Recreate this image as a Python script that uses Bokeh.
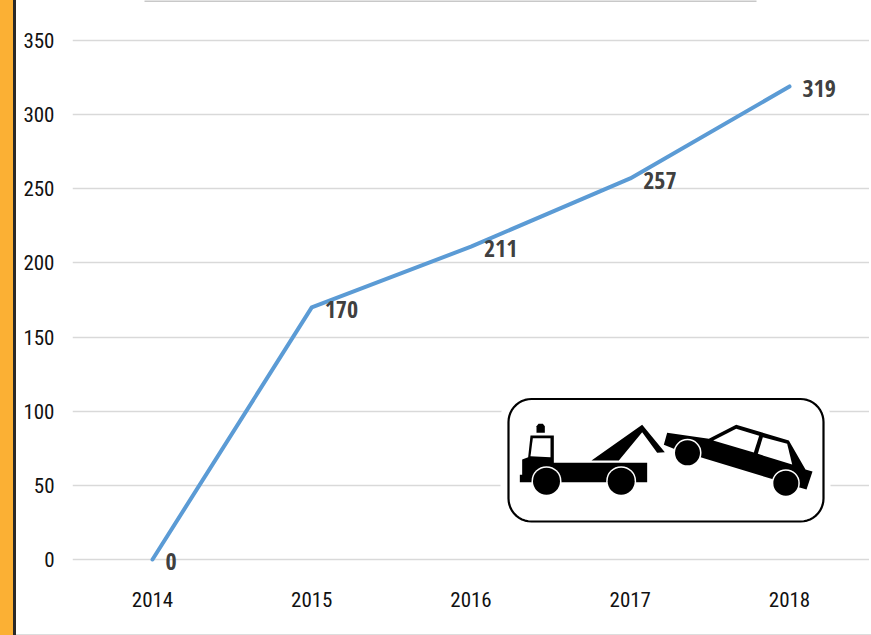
from bokeh.plotting import figure
from bokeh.models import Range1d, FixedTicker, ColumnDataSource, Div
from bokeh.layouts import row, column
from bokeh.core.properties import value
from bokeh.embed import file_html
from bokeh.resources import INLINE
import numpy as np

# chart data
years = [2014, 2015, 2016, 2017, 2018]
counts = [0, 170, 211, 257, 319]
count_labels = ["0", "170", "211", "257", "319"]
y_ticks = [0, 50, 100, 150, 200, 250, 300, 350]

BAND, EDGE = 13, 3
OX = BAND + EDGE                   # window x of the figure
W, H = 853, 634
FL, FR, FT, FB = 72, 869, 0, 580   # frame edges in window pixels
Y0, PXU = 559.0, 519.0 / 350       # window y of value 0, pixels per unit
X0, PXS = 152.0, 159.25            # window x of 2014, pixels per year

p = figure(width=W, height=H, output_backend="svg", toolbar_location=None,
           x_range=Range1d(2014 + (FL - X0) / PXS, 2014 + (FR - X0) / PXS),
           y_range=Range1d((Y0 - FB) / PXU, (Y0 - FT) / PXU),
           min_border_left=FL - OX, min_border_right=OX + W - FR, min_border_top=0,
           min_border_bottom=H - FB, outline_line_color=None, margin=0)

TICK_FONT = "Roboto Condensed"
LABEL_FONT = "Open Sans Condensed"
p.xgrid.visible = False
p.ygrid.grid_line_color = "#d9d9d9"
p.ygrid.grid_line_width = 1.5
p.ygrid.ticker = FixedTicker(ticks=y_ticks)
p.xaxis.ticker = FixedTicker(ticks=years)
p.yaxis.ticker = FixedTicker(ticks=y_ticks)
for ax, standoff in ((p.xaxis, 5), (p.yaxis, 12)):
    ax.axis_line_color = None
    ax.major_tick_line_color = None
    ax.minor_tick_line_color = None
    ax.major_label_text_font = TICK_FONT
    ax.major_label_text_font_size = "21px"
    ax.major_label_text_color = "#111111"
    ax.major_label_standoff = standoff

def dx(px): return 2014 + (np.asarray(px, float) - X0) / PXS
def dy(py): return (Y0 - np.asarray(py, float)) / PXU

# rule along the top edge of the picture
p.line(dx([144, 756]), dy([0.5, 0.5]), line_color="#c8c8c8", line_width=2)

# series
p.line(years, counts, line_color="#5B9BD5", line_width=4, line_join="round", line_cap="round")
src = ColumnDataSource(dict(x=years, y=counts, t=count_labels))
p.text("x", "y", text="t", source=src, x_offset=13, y_offset=2, text_align="left", text_baseline="middle",
       text_font=value(LABEL_FONT), text_font_size="24px", text_color="#404040")

# pictogram (decoration), outlined in window pixels
def poly(pts, color):
    a = np.array(pts, float)
    p.patch(dx(490 + a[:, 0] / 3), dy(385 + a[:, 1] / 3), fill_color=color, line_color=None)
def rrect(l, t, r, b, rad):
    out = []
    for cx, cy, a0 in ((r - rad, t + rad, -90), (r - rad, b - rad, 0), (l + rad, b - rad, 90), (l + rad, t + rad, 180)):
        for a in np.radians(np.linspace(a0, a0 + 90, 12)):
            out.append((cx + rad * np.cos(a), cy + rad * np.sin(a)))
    a = np.array(out)
    return dx(a[:, 0]), dy(a[:, 1])
def wheel(zx, zy, d):
    p.scatter(dx([490 + zx / 3]), dy([385 + zy / 3]), size=d + 3, fill_color="white", line_color=None)
    p.scatter(dx([490 + zx / 3]), dy([385 + zy / 3]), size=d, fill_color="black", line_color=None)

p.patch(*rrect(500, 392, 830, 527, 26), fill_color="white", line_color=None)
p.patch(*rrect(508, 398.5, 823, 521, 23), fill_color="white", line_color="black", line_width=2.2)

# truck
poly([(138, 122), (144, 115), (157, 115), (163, 122), (163, 142), (138, 142)], "black")
poly([(95, 222), (113, 215), (120, 150), (190, 150), (190, 232), (470, 232), (470, 290),
      (88, 290), (88, 268), (95, 268)], "black")
poly([(120, 212), (127, 158), (180, 158), (180, 215)], "white")
poly([(303, 225), (455, 118), (523, 200), (500, 202), (455, 140), (385, 225)], "black")
wheel(168, 287, 27)
wheel(392, 287, 27)
# car
poly([(530, 142), (655, 160), (737, 118), (895, 165), (945, 252), (966, 258), (948, 312), (925, 305),
      (850, 282), (640, 218), (550, 190), (520, 178)], "black")
poly([(668, 165), (737, 130), (806, 151), (790, 201)], "white")
poly([(817, 155), (890, 175), (905, 237), (802, 205)], "white")
wheel(591, 202, 25)
wheel(886, 293, 25)

band = Div(text="", width=BAND, height=635, margin=0, styles={"background-color": "#FBB034"})
edge = Div(text="", width=EDGE, height=635, margin=0, styles={"background-color": "#2a2a2a"})
rule = Div(text="", width=871 - OX, height=1, margin=0, styles={"background-color": "#dddddd"})
page = row(band, edge, column(p, rule, spacing=0), spacing=0)

open("out.html", "w").write(file_html(page, INLINE))
